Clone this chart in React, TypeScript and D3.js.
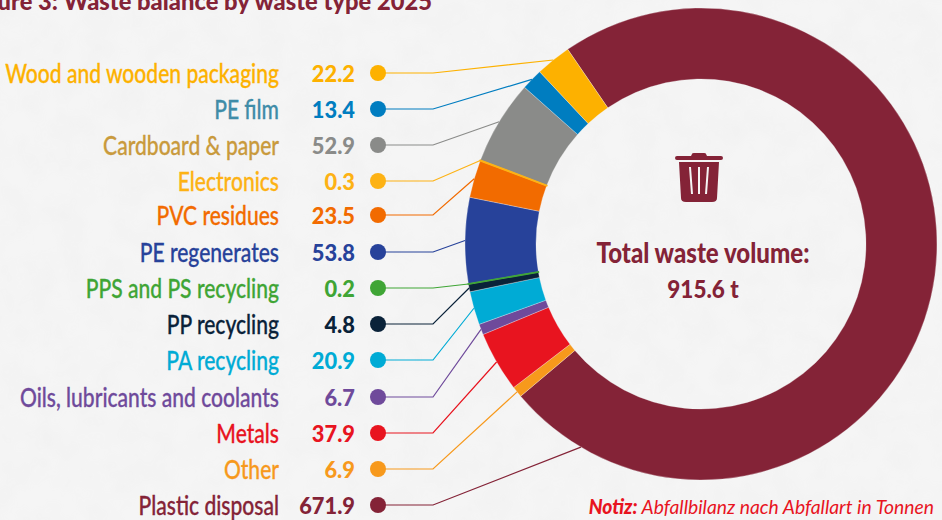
import React from "react";
import * as d3 from "d3";

const categories = ["Plastic disposal","Other","Metals","Oils, lubricants and coolants","PA recycling","PP recycling","PPS and PS recycling","PE regenerates","PVC residues","Electronics","Cardboard & paper","PE film","Wood and wooden packaging"];
const values = [671.9,6.9,37.9,6.7,20.9,4.8,0.2,53.8,23.5,0.3,52.9,13.4,22.2];
const colors = ["#842337","#f7991c","#e8141f","#6f4a9b","#00abd5","#0a2239","#3fa535","#27429a","#f26b00","#fdb214","#8a8b89","#007dc0","#fdb100"];
const labelColors = ["#842337","#f7991c","#e8141f","#6f4a9b","#00abd5","#0a2239","#3fa535","#27429a","#f26b00","#fdb214","#c99a3c","#3f8ca8","#fdb100"];
const rowOrder = [12,11,10,9,8,7,6,5,4,3,2,1,0];
const rowYs = [73,109,145,181,215,252,288,324,360,397,433,469,505];

const W = 942, H = 520, cx = 701, cy = 244, R = 236, r = 165;
const FONT = "Lato,'Noto Sans',sans-serif";
const startAngle = -34.4 * Math.PI / 180;

const T = ({ x, y, sx, anchor = "end", children, ...rest }: any) => (
  <text transform={`translate(${x},${y}) scale(${sx},1)`} textAnchor={anchor} {...rest}>{children}</text>
);

export default function App() {
  const pie = d3.pie<number>().sort(null).startAngle(startAngle).endAngle(startAngle + 2 * Math.PI);
  const arcs = pie(values);
  const arc = d3.arc<any>().innerRadius(r).outerRadius(R);
  const line = d3.line();
  const drawOrder = arcs.map((_, i) => i).sort((a, b) => (values[a] < 1 ? 1 : 0) - (values[b] < 1 ? 1 : 0));
  return (
    <svg width={W} height={H} viewBox={`0 0 ${W} ${H}`} style={{ position: "fixed", left: 0, top: 0, fontFamily: FONT }}>
      <defs>
        <filter id="paper" x="0" y="0" width="100%" height="100%">
          <feTurbulence type="fractalNoise" baseFrequency="0.035" numOctaves="3" seed="4" />
          <feColorMatrix values="0 0 0 0 0.5  0 0 0 0 0.5  0 0 0 0 0.5  0.25 0 0 0 -0.08" />
        </filter>
      </defs>
      <rect width={W} height={H} fill="#f5f5f5" />
      <rect width={W} height={H} filter="url(#paper)" opacity={0.35} />
      <T x={432} y={10} sx={0.95} fontSize={25} fontWeight={900} fill="#842337">Figure 3: Waste balance by waste type 2025</T>
      <g transform={`translate(${cx},${cy})`}>
        {drawOrder.map((i) => (
          <path key={i} d={arc(arcs[i]) as string} fill={colors[i]} stroke={values[i] < 1 ? colors[i] : "#f5f5f5"} strokeWidth={values[i] < 1 ? 1.6 : 0.3} />
        ))}
      </g>
      {rowOrder.map((idx, row) => {
        const y = rowYs[row];
        const a = arcs[idx];
        const ang = idx === 0 ? 210.6 * Math.PI / 180 : (a.startAngle + a.endAngle) / 2;
        const ex = cx + R * Math.sin(ang), ey = cy - R * Math.cos(ang);
        return (
          <g key={idx}>
            <path d={line([[378, y], [433, y], [ex, ey]]) as string} fill="none" stroke={colors[idx]} strokeWidth={1.2} />
            <circle cx={378} cy={y} r={8} fill={colors[idx]} />
            <T x={279} y={y + 10} sx={0.81} fontSize={26} fontWeight={500} stroke={labelColors[idx]} strokeWidth={0.3} fill={labelColors[idx]}>{categories[idx]}</T>
            <T x={355} y={y + 9} sx={0.95} fontSize={23} fontWeight={900} fill={colors[idx]}>{values[idx].toFixed(1)}</T>
          </g>
        );
      })}
      <g transform="translate(699,177)" fill="#842337">
        <path d="M-7,-25 Q-7,-26 -5,-26 H5 Q7,-26 7,-25 L8,-23 H22 Q24,-23 24,-21 Q24,-19 22,-19 H-22 Q-24,-19 -24,-21 Q-24,-23 -22,-23 H-8 Z" transform="translate(0,2)" />
        <path fillRule="evenodd" d="M-20,-15 H20 L18,21 Q18,25 13,25 H-13 Q-18,25 -18,21 Z M-10,-10 L-8,17 H-6 L-8,-10 Z M-1,-10 V17 H1 V-10 Z M8,-10 L6,17 H8 L10,-10 Z" />
      </g>
      <T x={703} y={263} sx={0.86} anchor="middle" fontSize={28} fontWeight={900} fill="#842337">Total waste volume:</T>
      <T x={703} y={298} sx={0.9} anchor="middle" fontSize={25} fontWeight={900} fill="#842337">915.6 t</T>
      <T x={934} y={514} sx={0.965} fontSize={20} fontStyle="italic" fill="#e8141f"><tspan fontWeight={900}>Notiz:</tspan> Abfallbilanz nach Abfallart in Tonnen</T>
    </svg>
  );
}
